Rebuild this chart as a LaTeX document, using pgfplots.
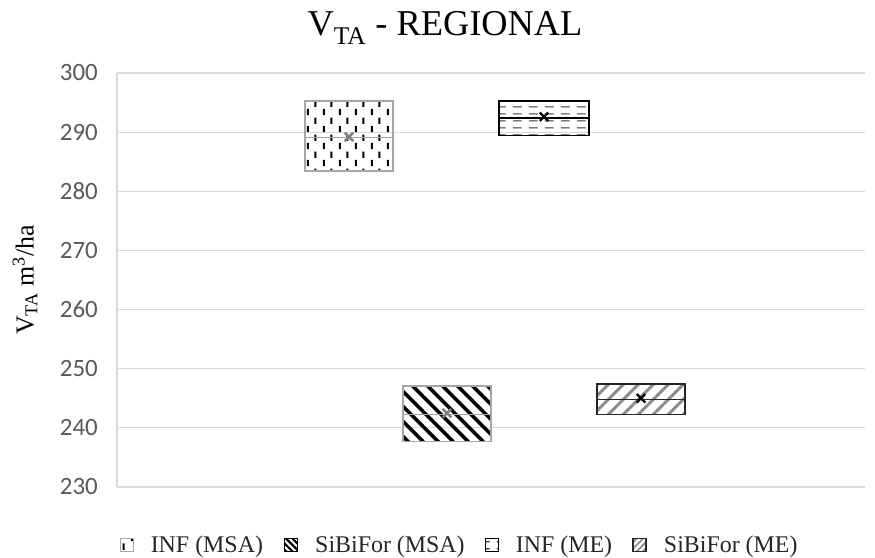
\documentclass[border=0pt]{standalone}
\usepackage{pgfplots}
\pgfplotsset{compat=1.18}
\usetikzlibrary{patterns.meta}
\usepackage{fontspec}
\setmainfont{Liberation Serif}
\newfontfamily\carlito{Carlito}
\definecolor{bordergray}{HTML}{A6A6A6}
\definecolor{gridgray}{HTML}{D9D9D9}
\definecolor{ticktext}{HTML}{595959}
\definecolor{hatchgray}{HTML}{8C8C8C}

\tikzdeclarepattern{
  name=vdashes,
  type=uncolored,
  bottom left={(0bp,0bp)},
  top right={(16bp,17bp)},
  tile size={(16bp,17bp)},
  code={
    \draw[line width=2bp] (4bp,1bp) -- (4bp,7.5bp);
    \draw[line width=2bp] (12bp,9.5bp) -- (12bp,16bp);
  }
}
\tikzdeclarepattern{
  name=hdashes,
  type=uncolored,
  bottom left={(0bp,0bp)},
  top right={(16bp,7bp)},
  tile size={(16bp,7bp)},
  code={
    \draw[line width=1.3bp] (1bp,3.5bp) -- (10bp,3.5bp);
  }
}

\begin{document}
\begin{tikzpicture}
\useasboundingbox (0,0) rectangle (875bp,558bp);
\begin{axis}[
  at={(117bp,71bp)}, anchor=south west,
  width=748bp, height=414bp, scale only axis,
  xmin=0, xmax=748, ymin=230, ymax=300,
  ytick={230,240,...,300},
  xtick=\empty,
  axis x line=none,
  axis y line=left,
  y axis line style={draw=gridgray, line width=1.2bp, -},
  major tick length=0pt,
  ymajorgrids,
  grid style={gridgray, line width=1.2bp},
  /pgf/number format/assume math mode=true,
  yticklabel style={font=\carlito\fontsize{25}{25}\selectfont, text=ticktext, inner sep=0pt, xshift=-19bp},
  title={V\textsubscript{TA} - REGIONAL},
  title style={at={(axis description cs:0.4385,1.075)}, anchor=base, font=\fontsize{36.5}{36.5}\selectfont, inner sep=0pt},
  every axis y label/.style={at={(axis description cs:-0.123,0.5)}, rotate=90, anchor=center, font=\fontsize{26}{26}\selectfont},
  ylabel={V\textsubscript{TA} m\textsuperscript{3}/ha},
  legend columns=4,
  legend style={at={(axis description cs:0.4566,-0.140)}, anchor=center, draw=none, font=\fontsize{24}{24}\selectfont, text=black!85,
    nodes={inner sep=0pt},
    /tikz/every odd column/.append style={column sep=17bp},
    /tikz/every even column/.append style={column sep=20bp}},
  legend image code/.code={\draw[#1] (0bp,-6.5bp) rectangle (13bp,6.5bp);},
]
% INF (MSA)
\addplot[forget plot, draw=bordergray, line width=1.5bp, pattern=vdashes, pattern color=black]
  coordinates {(188,283.4) (276,283.4) (276,295.3) (188,295.3)} -- cycle;
\addplot[forget plot, draw=bordergray, line width=1.5bp] coordinates {(188,289.1) (276,289.1)};
% SiBiFor (MSA)
\addplot[forget plot, draw=bordergray, line width=1.5bp, pattern={Lines[angle=-45,distance=10.6bp,line width=3.6bp]}, pattern color=black]
  coordinates {(286,237.7) (374,237.7) (374,247.1) (286,247.1)} -- cycle;
\addplot[forget plot, draw=bordergray, line width=1.5bp] coordinates {(286,242.3) (374,242.3)};
% INF (ME)
\addplot[forget plot, draw=black, line width=1.5bp, pattern=hdashes, pattern color=black!80]
  coordinates {(382,289.4) (472,289.4) (472,295.3) (382,295.3)} -- cycle;
\addplot[forget plot, draw=black, line width=1.5bp] coordinates {(382,292.4) (472,292.4)};
% SiBiFor (ME)
\addplot[forget plot, draw=black!85, line width=1.5bp, pattern={Lines[angle=45,distance=10.6bp,line width=3bp]}, pattern color=hatchgray]
  coordinates {(480,242.3) (568,242.3) (568,247.4) (480,247.4)} -- cycle;
\addplot[forget plot, draw=black!85, line width=1.5bp] coordinates {(480,244.8) (568,244.8)};
% means
\addplot[forget plot, only marks, mark=x, mark size=6bp, line width=2.4bp, color=gray]
  coordinates {(232,289.2) (330,242.5)};
\addplot[forget plot, only marks, mark=x, mark size=6bp, line width=2.4bp, color=black]
  coordinates {(427,292.6) (524,245.0)};

\addlegendimage{draw=bordergray, line width=1.2bp, pattern=vdashes, pattern color=black}
\addlegendentry{INF (MSA)}
\addlegendimage{draw=black, line width=1.2bp, pattern={Lines[angle=-45,distance=4.5bp,line width=2.2bp]}, pattern color=black}
\addlegendentry{SiBiFor (MSA)}
\addlegendimage{draw=black, line width=1.2bp, pattern=hdashes, pattern color=black!80}
\addlegendentry{INF (ME)}
\addlegendimage{draw=black!85, line width=1.2bp, pattern={Lines[angle=45,distance=4.5bp,line width=1.8bp]}, pattern color=hatchgray}
\addlegendentry{SiBiFor (ME)}
\end{axis}
\end{tikzpicture}
\end{document}
